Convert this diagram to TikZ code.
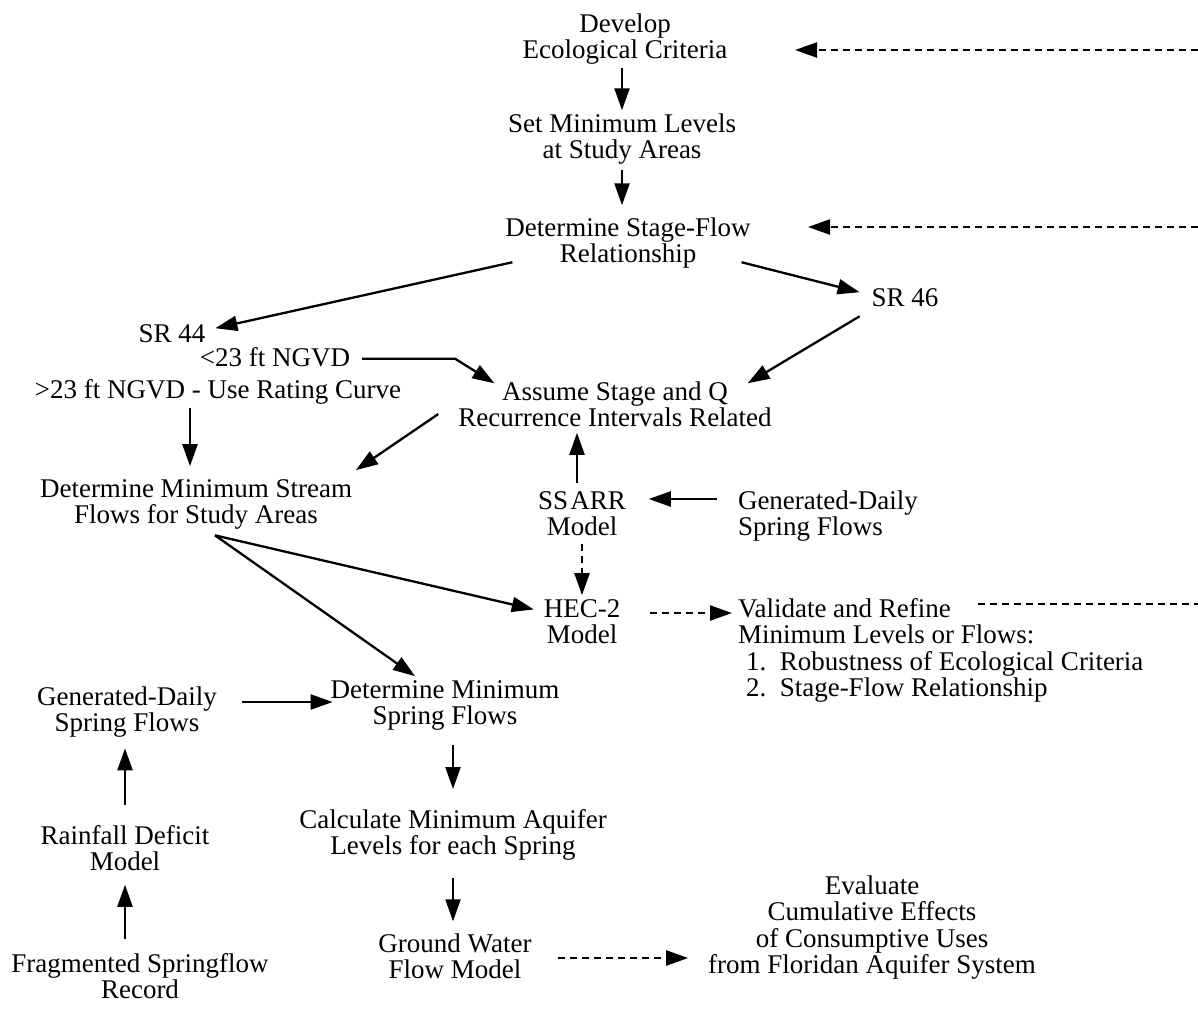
\documentclass[tikz,border=0pt]{standalone}
\usepackage{fontspec}
\setmainfont{Liberation Serif}
\usetikzlibrary{arrows.meta}
\begin{document}
\begin{tikzpicture}[x=1pt,y=-1pt,
  lbl/.style={font=\fontsize{27}{26.5}\selectfont, align=center, inner sep=0pt, outer sep=0pt, anchor=base},
  lbll/.style={lbl, align=left, anchor=base west},
  arr/.style={line width=2.3pt, -{Triangle[length=22pt,width=15pt]}},
  darr/.style={arr, dash pattern=on 7pt off 5pt},
  dline/.style={line width=2.3pt, dash pattern=on 7pt off 5pt},
]
\useasboundingbox[fill=white] (0,0) rectangle (1198,1010);

% nodes (positioned at last-line baseline)
\node[lbl] (dev) at (625,58.5) {Develop\\Ecological Criteria};
\node[lbl] (setmin) at (622,158.5) {Set Minimum Levels\\at Study Areas};
\node[lbl] (stage) at (628,262.5) {Determine Stage-Flow\\Relationship};
\node[lbl] (sr46) at (905,306) {SR 46};
\node[lbl] (sr44) at (172,342) {SR 44};
\node[lbl] (lt23) at (275,366) {<23 ft NGVD};
\node[lbl] (gt23) at (218,398) {>23 ft NGVD - Use Rating Curve};
\node[lbl] (assume) at (615,426.5) {Assume Stage and Q\\Recurrence Intervals Related};
\node[lbl] (detstream) at (196,523.5) {Determine Minimum Stream\\Flows for Study Areas};
\node[lbl] (ssarr) at (582,535.5) {SS\kern2pt ARR\\Model};
\node[lbll] (gen1) at (738,535.5) {Generated-Daily\\Spring Flows};
\node[lbl] (hec) at (582,643.5) {HEC-2\\Model};
\node[lbll] (validate) at (738,696.5) {Validate and Refine\\Minimum Levels or Flows:\\\hspace*{8pt}1.\ \ Robustness of Ecological Criteria\\\hspace*{8pt}2.\ \ Stage-Flow Relationship};
\node[lbl] (gen2) at (127,731.5) {Generated-Daily\\Spring Flows};
\node[lbl] (detspring) at (445,724.5) {Determine Minimum\\Spring Flows};
\node[lbl] (rain) at (125,870.5) {Rainfall Deficit\\Model};
\node[lbl] (calc) at (453,854.5) {Calculate Minimum Aquifer\\Levels for each Spring};
\node[lbl] (frag) at (140,998.5) {Fragmented Springflow\\Record};
\node[lbl] (gw) at (455,978.5) {Ground Water\\Flow Model};
\node[lbl] (eval) at (872,973.5) {Evaluate\\Cumulative Effects\\of Consumptive Uses\\from Floridan Aquifer System};

\coordinate (edgeA) at (1198,50);
\coordinate (edgeB) at (1198,227);
\coordinate (edgeC) at (1198,604);

% connectors
\draw[arr] (dev.south -| setmin.north) ++(0,4) -- ([yshift=3pt]setmin.north);
\draw[arr] ([yshift=-6pt]setmin.south) -- ([yshift=12pt]stage.north -| setmin.south);
\draw[darr] (edgeA) -- (edgeA -| 795,0);
\draw[darr] (edgeB) -- (edgeB -| 808,0);
\draw[arr] ([shift={(7,-6)}]stage.south west) -- ([shift={(10,-5)}]sr44.east);
\draw[arr] ([shift={(-9,-6)}]stage.south east) -- ([shift={(-12,-5)}]sr46.west);
\draw[arr] ([shift={(-12,10)}]sr46.south west) -- ([shift={(-24,2)}]assume.north east);
\draw[arr] ([shift={(12,2)}]lt23.east) -- ++(93,0) -- ([shift={(36,2)}]assume.north west);
\draw[arr] ([shift={(-28,4)}]gt23.south) -- ([shift={(-6,-13)}]detstream.north);
\draw[arr] ([shift={(-20,10)}]assume.west) -- ([shift={(4,-9)}]detstream.north east);
\draw[arr] ([shift={(-5,-8)}]ssarr.north) -- ([shift={(-38,6)}]assume.south);
\draw[arr] ([xshift=-21pt]gen1.west |- 0,499) -- ([xshift=23pt]ssarr.east |- 0,499);
\draw[darr] ([yshift=-8pt]ssarr.south) -- ([yshift=4pt]hec.north);
\draw[arr] ([shift={(19,6)}]detstream.south) -- ([shift={(-10,-12)}]hec.west);
\draw[arr] ([shift={(19,6)}]detstream.south) -- ([shift={(-30,-4)}]detspring.north);
\draw[darr] ([xshift=30pt]hec.east |- 0,613) -- ([xshift=-6pt]validate.west |- 0,613);
\draw[dline] ([xshift=240pt]validate.west |- edgeC) -- (edgeC);
\draw[arr] ([xshift=25pt]gen2.east |- 0,702) -- ([xshift=2pt]detspring.west |- 0,702);
\draw[arr] ([shift={(0,-20)}]rain.north) -- ([shift={(-2,11)}]gen2.south);
\draw[arr] ([shift={(-15,-14)}]frag.north) -- ([shift={(-15,14)}]rain.south -| frag.north);
\draw[arr] ([shift={(8,15)}]detspring.south) -- ([shift={(0,-20)}]calc.north);
\draw[arr] ([shift={(0,18)}]calc.south) -- ([shift={(-2,-12)}]gw.north);
\draw[darr] ([xshift=26pt]gw.east |- 0,958) -- ([xshift=-20pt]eval.west |- 0,958);
\end{tikzpicture}
\end{document}
